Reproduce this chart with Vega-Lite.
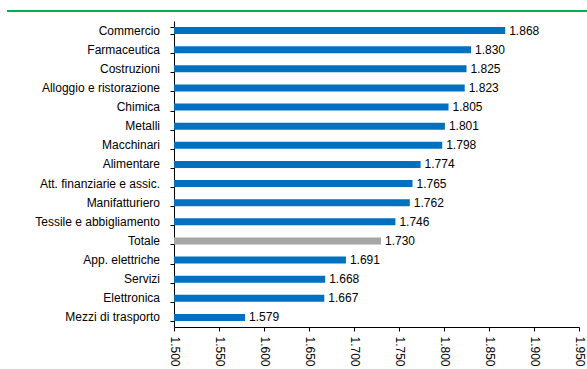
{
  "$schema": "https://vega.github.io/schema/vega-lite/v6.json",
  "padding": {"left": 7, "top": 10, "right": 0, "bottom": 0},
  "spacing": 9,
  "config": {
    "font": "Liberation Sans",
    "view": {"stroke": null},
    "locale": {"number": {"decimal": ",", "thousands": ".", "grouping": [3], "currency": ["€", ""]}}
  },
  "datasets": {
    "settori": [
      {"settore": "Commercio", "valore": 1868, "tipo": "s"},
      {"settore": "Farmaceutica", "valore": 1830, "tipo": "s"},
      {"settore": "Costruzioni", "valore": 1825, "tipo": "s"},
      {"settore": "Alloggio e ristorazione", "valore": 1823, "tipo": "s"},
      {"settore": "Chimica", "valore": 1805, "tipo": "s"},
      {"settore": "Metalli", "valore": 1801, "tipo": "s"},
      {"settore": "Macchinari", "valore": 1798, "tipo": "s"},
      {"settore": "Alimentare", "valore": 1774, "tipo": "s"},
      {"settore": "Att. finanziarie e assic.", "valore": 1765, "tipo": "s"},
      {"settore": "Manifatturiero", "valore": 1762, "tipo": "s"},
      {"settore": "Tessile e abbigliamento", "valore": 1746, "tipo": "s"},
      {"settore": "Totale", "valore": 1730, "tipo": "t"},
      {"settore": "App. elettriche", "valore": 1691, "tipo": "s"},
      {"settore": "Servizi", "valore": 1668, "tipo": "s"},
      {"settore": "Elettronica", "valore": 1667, "tipo": "s"},
      {"settore": "Mezzi di trasporto", "valore": 1579, "tipo": "s"}
    ]
  },
  "vconcat": [
    {
      "width": 580,
      "height": 2,
      "data": {"values": [{}]},
      "mark": {"type": "rect", "color": "#00B050"},
      "encoding": {}
    },
    {
      "spacing": 0,
      "hconcat": [
        {
          "width": 153,
          "height": 306,
          "data": {"name": "settori"},
          "mark": {"type": "text", "align": "right", "baseline": "middle", "fontSize": 12, "color": "#000000"},
          "encoding": {
            "y": {
              "field": "settore",
              "type": "nominal",
              "sort": null,
              "scale": {"paddingInner": 0.63, "paddingOuter": 0.315},
              "axis": null
            },
            "x": {"datum": 1, "type": "quantitative", "scale": {"domain": [0, 1]}, "axis": null},
            "text": {"field": "settore", "type": "nominal"}
          }
        },
        {
          "width": 405,
          "height": 306,
          "data": {"name": "settori"},
          "encoding": {
            "y": {
              "field": "settore",
              "type": "nominal",
              "sort": null,
              "scale": {"paddingInner": 0.63, "paddingOuter": 0.315},
              "axis": {
                "title": null,
                "labels": false,
                "minExtent": 14,
                "maxExtent": 14,
                "tickBand": "extent",
                "tickSize": 4,
                "tickColor": "#000000",
                "domainColor": "#000000",
                "grid": false
              }
            },
            "x": {
              "field": "valore",
              "type": "quantitative",
              "scale": {"domain": [1500, 1950], "zero": false, "nice": false},
              "axis": {
                "title": null,
                "values": [1500, 1550, 1600, 1650, 1700, 1750, 1800, 1850, 1900, 1950],
                "format": ",d",
                "labelAngle": 90,
                "labelAlign": "left",
                "labelBaseline": "middle",
                "labelFontSize": 12,
                "labelColor": "#000000",
                "labelPadding": 5,
                "tickSize": 4,
                "tickColor": "#000000",
                "domainColor": "#000000",
                "grid": false,
                "labelOverlap": false,
                "labelFlush": false
              }
            }
          },
          "layer": [
            {
              "mark": {"type": "bar", "clip": true},
              "encoding": {
                "color": {
                  "field": "tipo",
                  "type": "nominal",
                  "scale": {"domain": ["s", "t"], "range": ["#0070C0", "#A6A6A6"]},
                  "legend": null
                }
              }
            },
            {
              "mark": {"type": "text", "align": "left", "baseline": "middle", "dx": 4, "fontSize": 12, "color": "#000000"},
              "encoding": {
                "text": {"field": "valore", "type": "quantitative", "format": ",d"}
              }
            }
          ]
        }
      ]
    }
  ]
}
